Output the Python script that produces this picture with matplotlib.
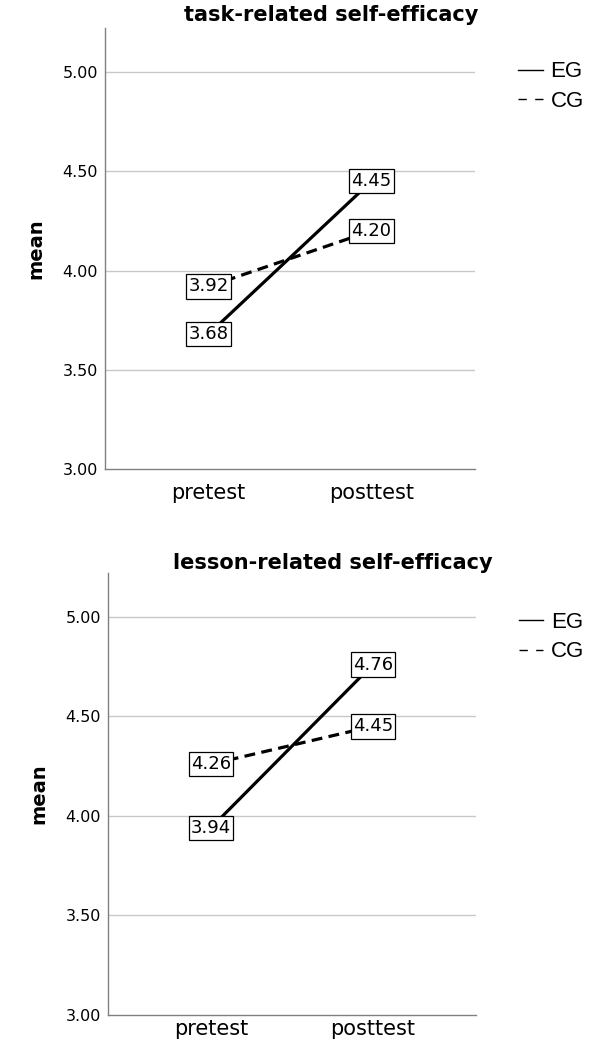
import matplotlib
matplotlib.use("Agg")
import matplotlib.pyplot as plt
from matplotlib.path import Path

plt.rcParams['font.family'] = ['DejaVu Sans']

phases = ["pretest", "posttest"]
groups = ["EG", "CG"]
titles = ["task-related self-efficacy", "lesson-related self-efficacy"]
eg_task = [3.68, 4.45]
cg_task = [3.92, 4.20]
eg_lesson = [3.94, 4.76]
cg_lesson = [4.26, 4.45]
yticks = [3.00, 3.50, 4.00, 4.50, 5.00]


def label_box(x0, y0, width, height, mutation_size):
    px = 0.12 * mutation_size
    py = 0.18 * mutation_size
    xa, xb = x0 - px, x0 + width + px
    ya, yb = y0 - py, y0 + height + py
    return Path([(xa, ya), (xb, ya), (xb, yb), (xa, yb), (xa, ya)],
                [Path.MOVETO, Path.LINETO, Path.LINETO, Path.LINETO, Path.CLOSEPOLY])


fig = plt.figure(figsize=(6.1, 10.45), dpi=100)
ax1 = fig.add_axes([0.172, 0.551, 0.607, 0.422])
ax2 = fig.add_axes([0.177, 0.0287, 0.603, 0.423])

dash = (0, (3.4, 2.0))
configs = [(ax1, titles[0], eg_task, cg_task, 5, 10, 0.945),
           (ax2, titles[1], eg_lesson, cg_lesson, 1, 3, 0.932)]
for ax, title, eg, cg, tpad, xpad, legy in configs:
    x = [0, 1]
    ax.plot(x, eg, color='black', lw=2.3, ls='-', zorder=3)
    ax.plot(x, cg, color='black', lw=2.3, ls=dash, zorder=3)
    for xi, v in list(zip(x, eg)) + list(zip(x, cg)):
        ax.text(xi, v, f"{v:.2f}", ha='center', va='center', fontsize=13, zorder=5,
                bbox=dict(boxstyle=label_box, fc='white', ec='black', lw=0.9))
    ax.set_xlim(-0.636, 1.636)
    ax.set_ylim(3.0, 5.22)
    ax.set_yticks(yticks)
    ax.set_yticklabels([f"{t:.2f}" for t in yticks], fontsize=11.5)
    ax.set_xticks(x)
    ax.set_xticklabels(phases, fontsize=15)
    ax.tick_params(axis='x', length=0, pad=xpad)
    ax.tick_params(axis='y', length=0, pad=5)
    for t in yticks[1:]:
        ax.axhline(t, color='#c8c8c8', lw=1, zorder=1)
    for s in ['top', 'right']:
        ax.spines[s].set_visible(False)
    for s in ['left', 'bottom']:
        ax.spines[s].set_color('#808080')
        ax.spines[s].set_linewidth(1)
    ax.set_ylabel("mean", fontsize=14, fontweight='bold', labelpad=12)
    ax.set_title(title, fontsize=15, fontweight='bold', pad=tpad, x=0.61)
    h1, = ax.plot([], [], color='black', lw=1, ls='-')
    h2, = ax.plot([], [], color='black', lw=1, ls=(0, (6, 6)))
    ax.legend([h1, h2], groups, loc='upper left', bbox_to_anchor=(1.092, legy),
              frameon=False, prop={'family': 'Liberation Sans', 'size': 16},
              handlelength=1.1, handletextpad=0.36,
              labelspacing=0.38, borderaxespad=0)

fig.savefig("out.png", dpi=100)
